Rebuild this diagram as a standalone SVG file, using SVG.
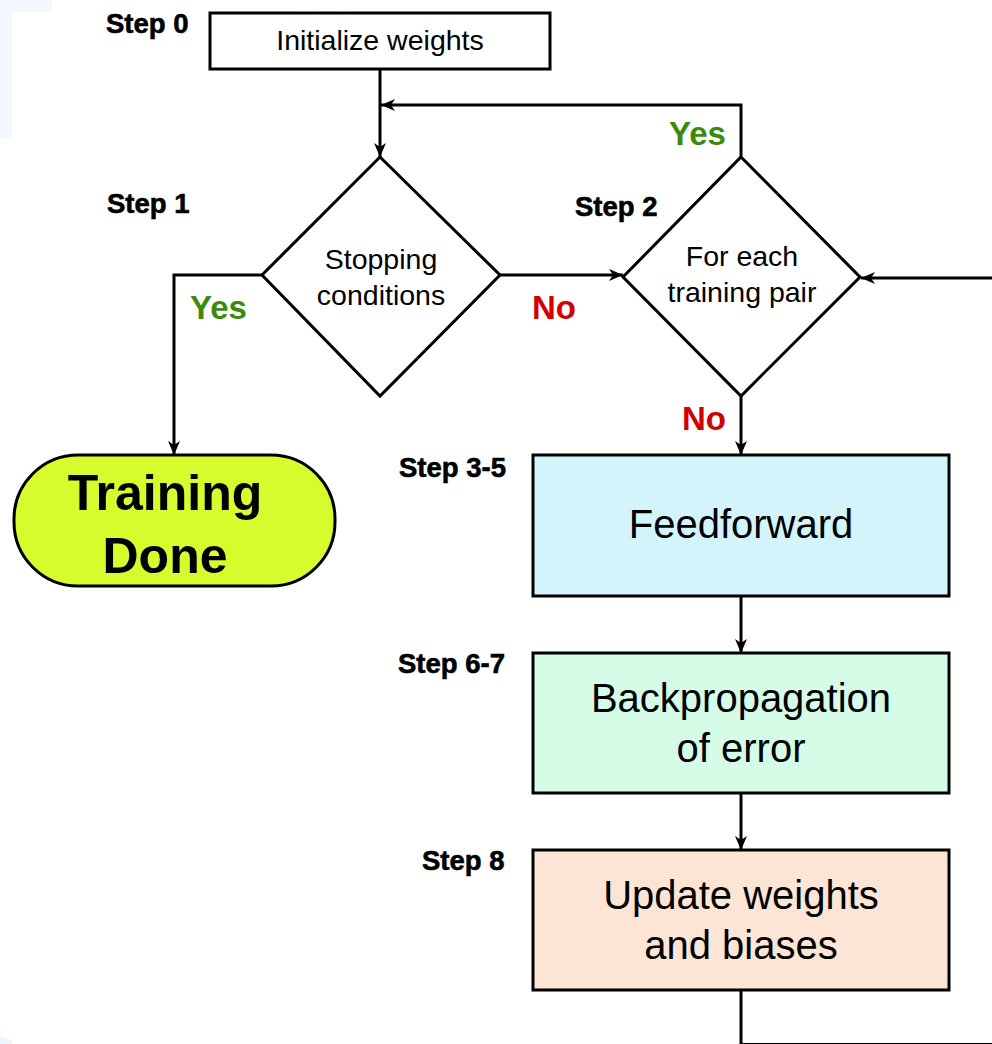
<svg xmlns="http://www.w3.org/2000/svg" width="992" height="1044" viewBox="0 0 992 1044">
  <style>
    .box { stroke: #000; stroke-width: 3; }
    .edge { fill: none; stroke: #000; stroke-width: 3; }
    .txt { font-family: "Liberation Sans", Arial, sans-serif; fill: #000; }
    .small { font-size: 28.5px; }
    .big { font-size: 40px; }
    .step { font-family: "Liberation Sans", Arial, sans-serif; font-size: 27.5px; font-weight: bold; fill: #000; stroke: #000; stroke-width: 0.6; }
    .yes { font-family: "Liberation Sans", Arial, sans-serif; font-size: 33px; font-weight: bold; fill: #3c8a0c; }
    .no { font-family: "Liberation Sans", Arial, sans-serif; font-size: 33px; font-weight: bold; fill: #d40000; }
  </style>
  <defs>
    <marker id="arrow" viewBox="0 0 14 12" refX="14" refY="6" markerWidth="14" markerHeight="12" markerUnits="userSpaceOnUse" orient="auto">
      <path d="M0,0 L14,6 L0,12 L4,6 Z" fill="#000"/>
    </marker>
  </defs>

  <rect width="992" height="1044" fill="#fff"/>
  <!-- faint tint at the upper-left corner -->
  <path d="M0,0 H52 V12 H12 V138 H0 Z" fill="#f3f8fe"/>
  <path d="M0,1036 L12,1040 V1044 H0 Z" fill="#eef5fd"/>

  <!-- connectors -->
  <g id="connectors">
    <path class="edge" d="M380,69 V157" marker-end="url(#arrow)"/>
    <path class="edge" d="M741,157 V105 H381" marker-end="url(#arrow)"/>
    <path class="edge" d="M262,275 H174 V455" marker-end="url(#arrow)"/>
    <path class="edge" d="M500,275 H623" marker-end="url(#arrow)"/>
    <path class="edge" d="M992,278 H861" marker-end="url(#arrow)"/>
    <path class="edge" d="M741,396 V455" marker-end="url(#arrow)"/>
    <path class="edge" d="M741,596 V653" marker-end="url(#arrow)"/>
    <path class="edge" d="M741,793 V850" marker-end="url(#arrow)"/>
    <path class="edge" d="M741,990 V1044.5 H992"/>
    <text class="yes" x="190" y="319">Yes</text>
    <text class="no" x="532" y="319">No</text>
    <text class="yes" x="669" y="145">Yes</text>
    <text class="no" x="682" y="430">No</text>
  </g>

  <g id="step0">
    <text class="step" x="106" y="33">Step 0</text>
    <rect class="box" x="210" y="13" width="340" height="56" fill="#fff"/>
    <text class="txt small" x="380" y="50" text-anchor="middle">Initialize weights</text>
  </g>

  <g id="step1">
    <text class="step" x="107" y="213">Step 1</text>
    <polygon class="box" points="380,157 500,275 380,396 262,275" fill="#fff"/>
    <text class="txt small" x="381" y="269" text-anchor="middle">Stopping</text>
    <text class="txt small" x="381" y="305" text-anchor="middle">conditions</text>
  </g>

  <g id="step2">
    <text class="step" x="575" y="216">Step 2</text>
    <polygon class="box" points="741,157 860,277 741,396 623,277" fill="#fff"/>
    <text class="txt small" x="742" y="266" text-anchor="middle">For each</text>
    <text class="txt small" x="742" y="302" text-anchor="middle">training pair</text>
  </g>

  <g id="done">
    <rect class="box" x="14" y="455" width="321" height="131" rx="64" ry="64" fill="#d6fc2e"/>
    <text class="txt" x="165" y="510" font-size="50" font-weight="bold" text-anchor="middle">Training</text>
    <text class="txt" x="165" y="573" font-size="50" font-weight="bold" text-anchor="middle">Done</text>
  </g>

  <g id="feedforward">
    <text class="step" x="399" y="477">Step 3-5</text>
    <rect class="box" x="533" y="455" width="416" height="141" fill="#d4f4fc"/>
    <text class="txt big" x="741" y="538" text-anchor="middle">Feedforward</text>
  </g>

  <g id="backprop">
    <text class="step" x="398" y="673">Step 6-7</text>
    <rect class="box" x="533" y="653" width="416" height="140" fill="#d4fce6"/>
    <text class="txt big" x="741" y="712" text-anchor="middle">Backpropagation</text>
    <text class="txt big" x="741" y="762" text-anchor="middle">of error</text>
  </g>

  <g id="update">
    <text class="step" x="422" y="870">Step 8</text>
    <rect class="box" x="533" y="850" width="416" height="140" fill="#fde5d5"/>
    <text class="txt big" x="741" y="909" text-anchor="middle">Update weights</text>
    <text class="txt big" x="741" y="959" text-anchor="middle">and biases</text>
  </g>
</svg>
